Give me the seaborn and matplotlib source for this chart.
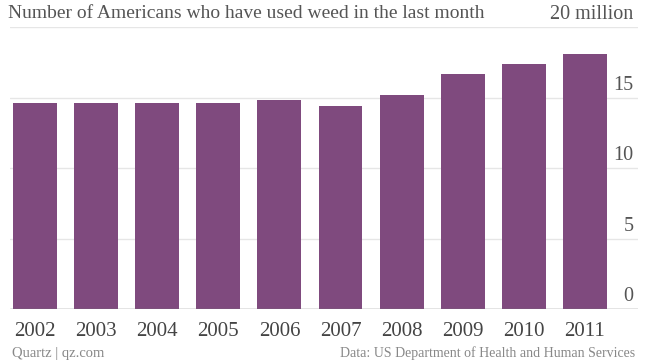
import matplotlib
matplotlib.use("Agg")
import matplotlib.pyplot as plt
import matplotlib.transforms as mtransforms
import pandas as pd
import seaborn as sns

# Data (millions of people)
years = ["2002", "2003", "2004", "2005", "2006", "2007", "2008", "2009", "2010", "2011"]
users = [14.6, 14.6, 14.6, 14.6, 14.8, 14.4, 15.2, 16.7, 17.4, 18.1]
ytick_values = [0, 5, 10, 15, 20]
ytick_labels = ["0", "5", "10", "15", "20 million"]

df = pd.DataFrame({"Year": years, "Users": users})

sns.set_style("white")
plt.rcParams["font.family"] = ["Liberation Serif", "DejaVu Serif"]

purple = "#7f4a7e"
text_col = "#555555"

fig = plt.figure(figsize=(6.45, 3.63), dpi=100)
ax = fig.add_axes([10 / 645, 1 - 309 / 363, 628 / 645, (309 - 27) / 363])

sns.barplot(data=df, x="Year", y="Users", color=purple, width=0.72,
            edgecolor="none", saturation=1, ax=ax)

ax.set_xlim(-0.41, 9.87)
ax.set_ylim(0, 20)
sns.despine(ax=ax, left=True, bottom=True, top=True, right=True)
ax.set_xlabel("")
ax.set_ylabel("")
ax.set_yticks([])

# gridlines and right-side labels sitting just above them
trans = mtransforms.blended_transform_factory(ax.transAxes, ax.transData)
off = mtransforms.offset_copy(trans, fig=fig, x=0, y=3, units="dots")
for v, lab in zip(ytick_values, ytick_labels):
    if v == 0:
        ax.axhline(v, color="#777777", lw=1.0, zorder=3)
    else:
        ax.axhline(v, color="#e6e6e6", lw=1.0, zorder=0)
    ax.text(0.993, v, lab, transform=off, ha="right", va="bottom",
            fontsize=14.5, color=text_col)

ax.tick_params(axis="x", length=5, color="#dddddd", labelsize=15,
               labelcolor="#444444", pad=4, direction="out")

fig.text(8 / 645, 1 - 22 / 363, "Number of Americans who have used weed in the last month",
         ha="left", va="bottom", fontsize=14, color=text_col)
fig.text(12 / 645, 1 - 353 / 363, "Quartz | qz.com", ha="left", va="center",
         fontsize=10.5, color="#888888")
fig.text(635 / 645, 1 - 353 / 363, "Data: US Department of Health and Human Services",
         ha="right", va="center", fontsize=10, color="#888888")

fig.savefig("out.png", dpi=100)
